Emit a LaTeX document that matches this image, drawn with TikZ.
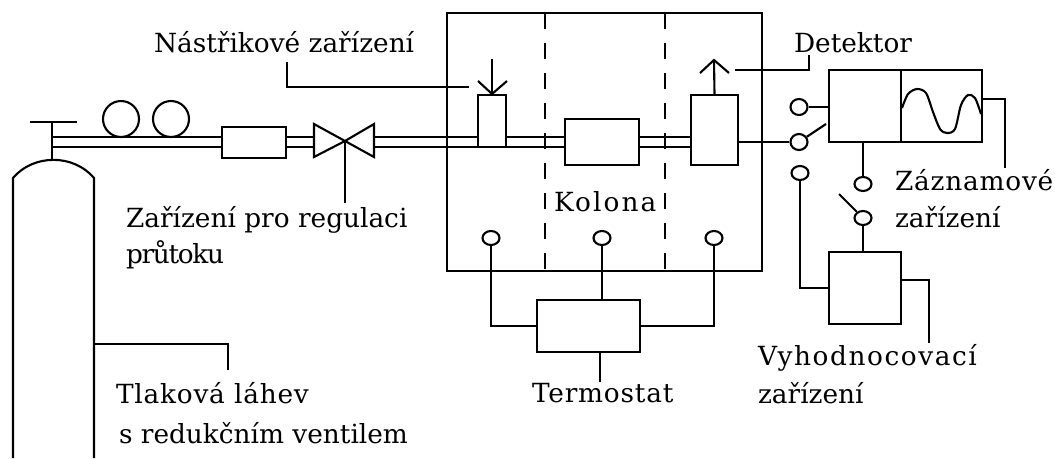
\documentclass[tikz,border=0pt]{standalone}
\usepackage{fontspec}
\setmainfont{DejaVu Serif}
\usetikzlibrary{shapes.geometric}
\newcommand{\rozpal}[1]{\addfontfeature{LetterSpace=#1}}
\tikzset{
  box/.style={draw,line width=1.2pt,inner sep=0pt},
  contact/.style={draw,ellipse,line width=1.2pt,inner sep=0pt,minimum width=0.34cm,minimum height=0.28cm},
  popis/.style={inner sep=0pt,anchor=base west,align=left,font=\fontsize{15}{15}\selectfont},
  dil/.style={dash pattern=on 0.32cm off 0.28cm}
}
\begin{document}
\begin{tikzpicture}[x=0.02cm,y=-0.02cm,line width=1.2pt]
  \useasboundingbox (0,0) rectangle (1055,458);
  % termostat oven
  \node[box,minimum width=6.3cm,minimum height=5.16cm] (pec) at (604.5,142) {};
  \coordinate (del1t) at (545,13);
  \coordinate (del1b) at (545,271);
  \coordinate (del2t) at (665,13);
  \coordinate (del2b) at (665,271);
  \draw[dil] (del1t) -- (del1b);
  \draw[dil] (del2t) -- (del2b);
  % boxes on the pipe
  \node[box,minimum width=1.28cm,minimum height=0.62cm] (reg) at (254,142.5) {};
  \node[box,fill=white,minimum width=0.56cm,minimum height=1.04cm] (inj) at (492,121) {};
  \node[box,fill=white,minimum width=1.48cm,minimum height=0.92cm] (kol) at (602,142) {};
  \node[box,fill=white,minimum width=0.94cm,minimum height=1.4cm] (det) at (714.5,130) {};
  \node[box,minimum width=1.44cm,minimum height=1.44cm] (zes) at (865,106) {};
  \node[box,minimum width=1.62cm,minimum height=1.44cm] (zap) at (941.5,106) {};
  \node[box,minimum width=1.44cm,minimum height=1.44cm] (vyh) at (865,288) {};
  \node[box,minimum width=2.06cm,minimum height=1.04cm] (ter) at (588.5,326) {};
  % cylinder
  \coordinate (lahL) at (13,458);
  \coordinate (lahLt) at (13,178);
  \coordinate (lahRt) at (94,178);
  \coordinate (lahR) at (94,458);
  \coordinate (lahV) at (52,159);
  \coordinate (kohT) at (52,122);
  \draw (lahL) -- (lahLt) to[bend left=50] (lahRt) -- (lahR);
  \draw (lahV) -- (kohT);
  \coordinate (kohL) at (30,122);
  \coordinate (kohR) at (77,122);
  \draw (kohL) -- (kohR);
  % pipes, upper and lower line
  \coordinate (p1a) at (52,137);
  \coordinate (p1b) at (52,147);
  \draw (p1a) -- (reg.west |- p1a);
  \draw (p1b) -- (reg.west |- p1b);
  \coordinate (vL) at (314,124);
  \coordinate (vLb) at (314,157);
  \coordinate (vS) at (345,141);
  \coordinate (vRt) at (374,124);
  \coordinate (vR) at (374,157);
  \draw (reg.east |- p1a) -- (vL |- p1a);
  \draw (reg.east |- p1b) -- (vL |- p1b);
  \draw (vL) -- (vS) -- (vLb) -- cycle;
  \draw (vRt) -- (vS) -- (vR) -- cycle;
  \draw (vR |- p1a) -- (inj.west |- p1a);
  \draw (vR |- p1b) -- (inj.west |- p1b);
  \draw (inj.east |- p1a) -- (kol.west |- p1a);
  \draw (inj.east |- p1b) -- (kol.west |- p1b);
  \draw (kol.east |- p1a) -- (det.west |- p1a);
  \draw (kol.east |- p1b) -- (det.west |- p1b);
  % gauges
  \node[draw,circle,inner sep=0pt,minimum size=0.72cm] (man1) at (121,119) {};
  \node[draw,circle,inner sep=0pt,minimum size=0.72cm] (man2) at (171,119) {};
  % injection and detector arrows
  \coordinate (injT) at (492,59);
  \coordinate (injL) at (478,81);
  \coordinate (injR) at (507,81);
  \draw (injT) -- (inj.north);
  \draw (injL) -- (inj.north) -- (injR);
  \coordinate (detT) at (714,60);
  \coordinate (detL) at (700,73);
  \coordinate (detR) at (729,73);
  \draw (det.north) -- (detT);
  \draw (detL) -- (detT) -- (detR);
  % contacts
  \node[contact] (k1) at (491,238) {};
  \node[contact] (k2) at (602,238) {};
  \node[contact] (k3) at (714,238) {};
  \node[contact,minimum height=0.32cm] (s1) at (799,107) {};
  \node[contact,minimum height=0.32cm] (s2) at (799,142) {};
  \node[contact] (s3) at (800,173) {};
  \node[contact] (s4) at (863,184) {};
  \node[contact] (s5) at (863,218) {};
  \draw (k1) |- (ter.west);
  \draw (k2) -- (ter.north -| k2);
  \draw (k3) |- (ter.east);
  \draw (s1) -- (zes.west |- s1);
  \draw (det.east |- s2) -- (s2);
  \coordinate (ram1) at (826,124);
  \draw (s2) -- (ram1);
  \draw (s4 |- zes.south) -- (s4);
  \coordinate (ram2) at (839,194);
  \draw (s5) -- (ram2);
  \draw (s5) -- (s5 |- vyh.north);
  \draw (s3) |- (vyh.west);
  % recorder curve
  \draw plot[smooth] coordinates {(902,108) (908,94) (917,89) (926,93) (933,112) (940,129) (947,133) (955,129) (961,105) (968,95) (975,98) (981,114)};
  % leaders
  \coordinate (lNas1) at (287,62);
  \coordinate (lNas2) at (287,87);
  \coordinate (lNas3) at (469,87);
  \draw (lNas1) -- (lNas2) -- (lNas3);
  \coordinate (lDet1) at (735,70);
  \coordinate (lDet2) at (809,70);
  \coordinate (lDet3) at (809,55);
  \draw (lDet1) -- (lDet2) -- (lDet3);
  \coordinate (lZar) at (345,203);
  \draw (vS) -- (lZar);
  \coordinate (lZap1) at (1005,99);
  \coordinate (lZap2) at (1005,168);
  \draw (zap.east |- lZap1) -- (lZap1) -- (lZap2);
  \coordinate (lVyh1) at (929,280);
  \coordinate (lVyh2) at (929,343);
  \draw (vyh.east |- lVyh1) -- (lVyh1) -- (lVyh2);
  \coordinate (lTer) at (600,382);
  \draw (ter.south -| lTer) -- (lTer);
  \coordinate (lTla1) at (228,344);
  \coordinate (lTla2) at (228,370);
  \draw (lahR |- lTla1) -- (lTla1) -- (lTla2);
  % labels
  \node[popis] (tNas) at (153,52) {Nástřikové zařízení};
  \node[popis] (tDet) at (793,52) {Detektor};
  \node[popis] (tZar) at (125,227) {Zařízení pro regulaci};
  \node[popis] (tPru) at (125,263) {\rozpal{-5}průtoku};
  \node[popis] (tKol) at (553,211) {\rozpal{8}Kolona};
  \node[popis] (tZaz) at (894,190) {\rozpal{3}Záznamové};
  \node[popis] (tZa2) at (894,227) {zařízení};
  \node[popis] (tVyh) at (757,365) {\rozpal{6}Vyhodnocovací};
  \node[popis] (tVy2) at (757,403) {zařízení};
  \node[popis] (tTer) at (531,402) {\rozpal{3}Termostat};
  \node[popis] (tTla) at (115,403) {\rozpal{3}Tlaková láhev};
  \node[popis] (tRed) at (118,443) {s redukčním ventilem};
\end{tikzpicture}
\end{document}
